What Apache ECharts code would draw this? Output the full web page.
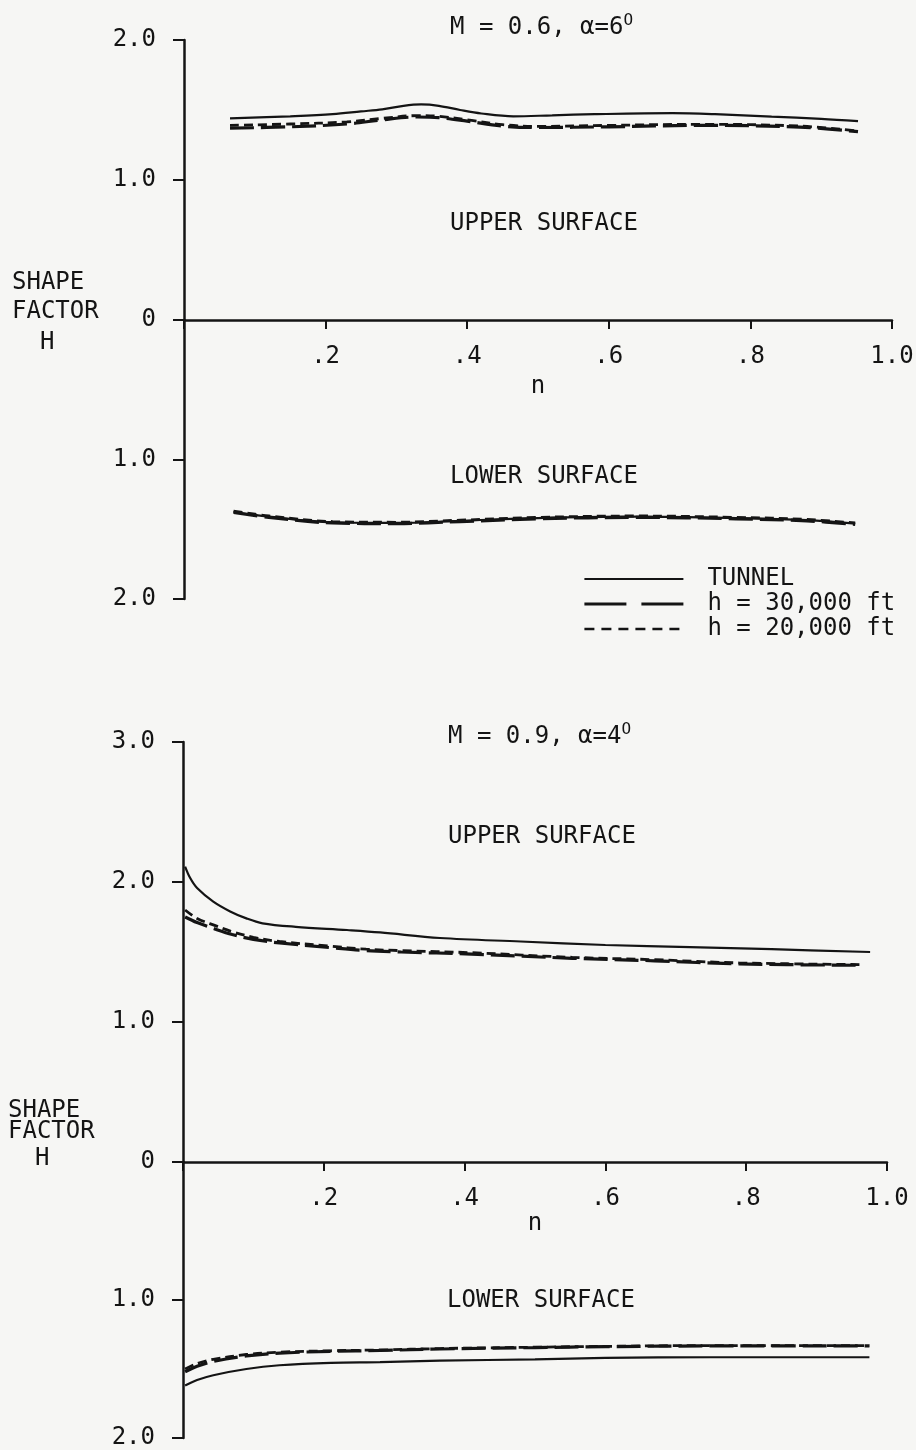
<!DOCTYPE html>
<html>
<head>
<meta charset="utf-8">
<script src="https://cdn.jsdelivr.net/npm/echarts@6/dist/echarts.min.js"></script>
<style>
  html, body { margin: 0; padding: 0; background: #f6f6f4; }
  #chart { width: 916px; height: 1450px; }
</style>
</head>
<body>
<div id="chart"></div>
<script>
// ---- Shape factor H versus chordwise position n ----
// Each case has an upper-surface grid (H grows upward) and a lower-surface
// grid directly beneath it (H grows downward).

const seriesNames = ['TUNNEL', 'h = 30,000 ft', 'h = 20,000 ft'];
const xTickLabels = ['', '.2', '.4', '.6', '.8', '1.0'];
const yTickLabelsUpperA = ['0', '1.0', '2.0'];
const yTickLabelsUpperB = ['0', '1.0', '2.0', '3.0'];
const yTickLabelsLower = ['', '1.0', '2.0'];

// M = 0.6, alpha = 6 deg, upper surface
const nA_up_tunnel = [0.065, 0.15, 0.21, 0.25, 0.28, 0.31, 0.335, 0.36, 0.39, 0.42, 0.465, 0.52, 0.58, 0.69, 0.75, 0.83, 0.9, 0.952];
const hA_up_tunnel = [1.44, 1.455, 1.47, 1.49, 1.505, 1.53, 1.54, 1.53, 1.50, 1.475, 1.455, 1.462, 1.47, 1.477, 1.47, 1.453, 1.437, 1.42];
const nA_up_alt = [0.065, 0.15, 0.23, 0.28, 0.33, 0.36, 0.40, 0.45, 0.50, 0.60, 0.73, 0.87, 0.952];
const hA_up_h30 = [1.37, 1.38, 1.40, 1.43, 1.45, 1.445, 1.42, 1.385, 1.375, 1.38, 1.39, 1.378, 1.345];
const hA_up_h20 = [1.39, 1.40, 1.415, 1.44, 1.46, 1.455, 1.43, 1.395, 1.383, 1.39, 1.398, 1.385, 1.35];

// M = 0.6, alpha = 6 deg, lower surface
const nA_lo = [0.07, 0.12, 0.21, 0.30, 0.39, 0.50, 0.64, 0.78, 0.88, 0.948];
const hA_lo_tunnel = [1.375, 1.41, 1.45, 1.455, 1.44, 1.42, 1.41, 1.42, 1.435, 1.46];
const hA_lo_h30 = [1.38, 1.415, 1.455, 1.46, 1.445, 1.425, 1.415, 1.425, 1.44, 1.465];
const hA_lo_h20 = [1.37, 1.405, 1.445, 1.45, 1.435, 1.415, 1.405, 1.415, 1.43, 1.455];

// M = 0.9, alpha = 4 deg, upper surface
const nB_up_tunnel = [0.003, 0.01, 0.02, 0.043, 0.067, 0.09, 0.113, 0.16, 0.233, 0.28, 0.365, 0.48, 0.60, 0.72, 0.836, 0.976];
const hB_up_tunnel = [2.11, 2.03, 1.957, 1.86, 1.79, 1.74, 1.705, 1.68, 1.657, 1.64, 1.60, 1.575, 1.55, 1.535, 1.52, 1.50];
const nB_up_alt = [0.003, 0.02, 0.045, 0.07, 0.10, 0.137, 0.208, 0.26, 0.31, 0.41, 0.553, 0.67, 0.79, 0.965];
const hB_up_h30 = [1.75, 1.71, 1.665, 1.625, 1.59, 1.565, 1.532, 1.51, 1.50, 1.485, 1.455, 1.437, 1.415, 1.405];
const hB_up_h20 = [1.80, 1.74, 1.69, 1.645, 1.605, 1.575, 1.542, 1.52, 1.51, 1.495, 1.462, 1.445, 1.422, 1.41];

// M = 0.9, alpha = 4 deg, lower surface
const nB_lo = [0.003, 0.02, 0.043, 0.09, 0.137, 0.21, 0.28, 0.365, 0.50, 0.60, 0.75, 0.975];
const hB_lo_tunnel = [1.62, 1.58, 1.545, 1.50, 1.473, 1.455, 1.45, 1.44, 1.43, 1.42, 1.415, 1.415];
const hB_lo_h30 = [1.52, 1.48, 1.445, 1.405, 1.385, 1.372, 1.366, 1.355, 1.345, 1.338, 1.333, 1.333];
const hB_lo_h20 = [1.50, 1.46, 1.43, 1.395, 1.378, 1.368, 1.362, 1.352, 1.342, 1.336, 1.33, 1.33];

// ---- styling ----
const INK = '#141414';
const FONT = 'DejaVu Sans Mono';
const FS = 24;
const lineStyles = [
  { color: INK, width: 2.2, type: 'solid' },
  { color: INK, width: 3.2, type: [24, 7] },
  { color: INK, width: 2.8, type: [9, 5] }
];

function pts(nArr, hArr) {
  return nArr.map((n, i) => [n, hArr[i]]);
}

function curve(nameIdx, grid, data) {
  return {
    type: 'line',
    name: seriesNames[nameIdx],
    xAxisIndex: grid,
    yAxisIndex: grid,
    data: data,
    symbol: 'none',
    smooth: 0.35,
    lineStyle: lineStyles[nameIdx],
    silent: true,
    z: 3
  };
}

function xAxisFor(grid, visible, nameGap, labelMargin) {
  return {
    gridIndex: grid,
    type: 'value',
    show: visible,
    min: 0, max: 1, interval: 0.2,
    name: visible ? 'n' : '',
    nameLocation: 'middle',
    nameGap: nameGap,
    nameTextStyle: { color: INK, fontFamily: FONT, fontSize: FS },
    axisLine: { onZero: false, lineStyle: { color: INK, width: 2.5 } },
    axisTick: { show: true, length: 9, inside: false, lineStyle: { color: INK, width: 2 } },
    axisLabel: {
      color: INK, fontFamily: FONT, fontSize: FS, margin: labelMargin,
      formatter: (v) => xTickLabels[Math.round(v / 0.2)]
    },
    splitLine: { show: false }
  };
}

function yAxisFor(grid, max, labels, inverse) {
  return {
    gridIndex: grid,
    type: 'value',
    inverse: inverse,
    min: 0, max: max, interval: 1,
    axisLine: { show: true, onZero: false, lineStyle: { color: INK, width: 2.5 } },
    axisTick: { show: true, length: 11, inside: false, lineStyle: { color: INK, width: 2 } },
    axisLabel: {
      color: INK, fontFamily: FONT, fontSize: FS, margin: 28,
      formatter: (v) => labels[Math.round(v)]
    },
    splitLine: { show: false }
  };
}

function label(text, x, y) {
  return {
    type: 'text', left: x, top: y, silent: true,
    style: { text: text, fill: INK, font: FS + 'px "' + FONT + '"' }
  };
}

function titleText(main, x, y) {
  return {
    type: 'text', left: x, top: y, silent: true,
    style: {
      text: '{t|' + main + '}{s|O}',
      rich: {
        t: { fill: INK, fontFamily: FONT, fontSize: FS, lineHeight: 30 },
        s: { fill: INK, fontFamily: FONT, fontSize: 16, verticalAlign: 'top', lineHeight: 30, padding: [0, 0, 12, 0] }
      }
    }
  };
}

const gridBase = { outerBoundsMode: 'none', containLabel: false };

const option = {
  backgroundColor: '#f6f6f4',
  animation: false,
  grid: [
    Object.assign({ left: 184, top: 40, width: 708, height: 280 }, gridBase),
    Object.assign({ left: 184, top: 320, width: 708, height: 279 }, gridBase),
    Object.assign({ left: 183, top: 742, width: 704, height: 420 }, gridBase),
    Object.assign({ left: 183, top: 1162, width: 704, height: 276 }, gridBase)
  ],
  xAxis: [
    xAxisFor(0, true, 55, 25),
    xAxisFor(1, false, 55, 25),
    xAxisFor(2, true, 48, 25),
    xAxisFor(3, false, 48, 25)
  ],
  yAxis: [
    yAxisFor(0, 2, yTickLabelsUpperA, false),
    yAxisFor(1, 2, yTickLabelsLower, true),
    yAxisFor(2, 3, yTickLabelsUpperB, false),
    yAxisFor(3, 2, yTickLabelsLower, true)
  ],
  legend: {
    orient: 'vertical',
    left: 578, top: 562,
    itemWidth: 99, itemHeight: 16, itemGap: 1,
    itemStyle: { color: 'rgba(0,0,0,0)', borderWidth: 0 },
    textStyle: { color: INK, fontFamily: FONT, fontSize: FS, padding: [0, 0, 0, 19] },
    selectedMode: false,
    data: [
      { name: seriesNames[0], lineStyle: { width: 2.2, type: 'solid' } },
      { name: seriesNames[1], lineStyle: { width: 2.8, type: [42, 15] } },
      { name: seriesNames[2], lineStyle: { width: 2.4, type: [10, 7] } }
    ]
  },
  series: [
    curve(0, 0, pts(nA_up_tunnel, hA_up_tunnel)),
    curve(1, 0, pts(nA_up_alt, hA_up_h30)),
    curve(2, 0, pts(nA_up_alt, hA_up_h20)),
    curve(0, 1, pts(nA_lo, hA_lo_tunnel)),
    curve(1, 1, pts(nA_lo, hA_lo_h30)),
    curve(2, 1, pts(nA_lo, hA_lo_h20)),
    curve(0, 2, pts(nB_up_tunnel, hB_up_tunnel)),
    curve(1, 2, pts(nB_up_alt, hB_up_h30)),
    curve(2, 2, pts(nB_up_alt, hB_up_h20)),
    curve(0, 3, pts(nB_lo, hB_lo_tunnel)),
    curve(1, 3, pts(nB_lo, hB_lo_h30)),
    curve(2, 3, pts(nB_lo, hB_lo_h20))
  ],
  graphic: [
    titleText('M = 0.6, \u03b1=6', 450, 13),
    label('UPPER SURFACE', 450, 212),
    label('LOWER SURFACE', 450, 465),
    label('SHAPE', 12, 271),
    label('FACTOR', 12, 300),
    label('H', 40, 331),

    titleText('M = 0.9, \u03b1=4', 448, 722),
    label('UPPER SURFACE', 448, 825),
    label('LOWER SURFACE', 447, 1289),
    label('SHAPE', 8, 1099),
    label('FACTOR', 8, 1120),
    label('H', 35, 1147)
  ]
};

const chart = echarts.init(document.getElementById('chart'), null, { renderer: 'canvas' });
chart.setOption(option);
</script>
</body>
</html>
